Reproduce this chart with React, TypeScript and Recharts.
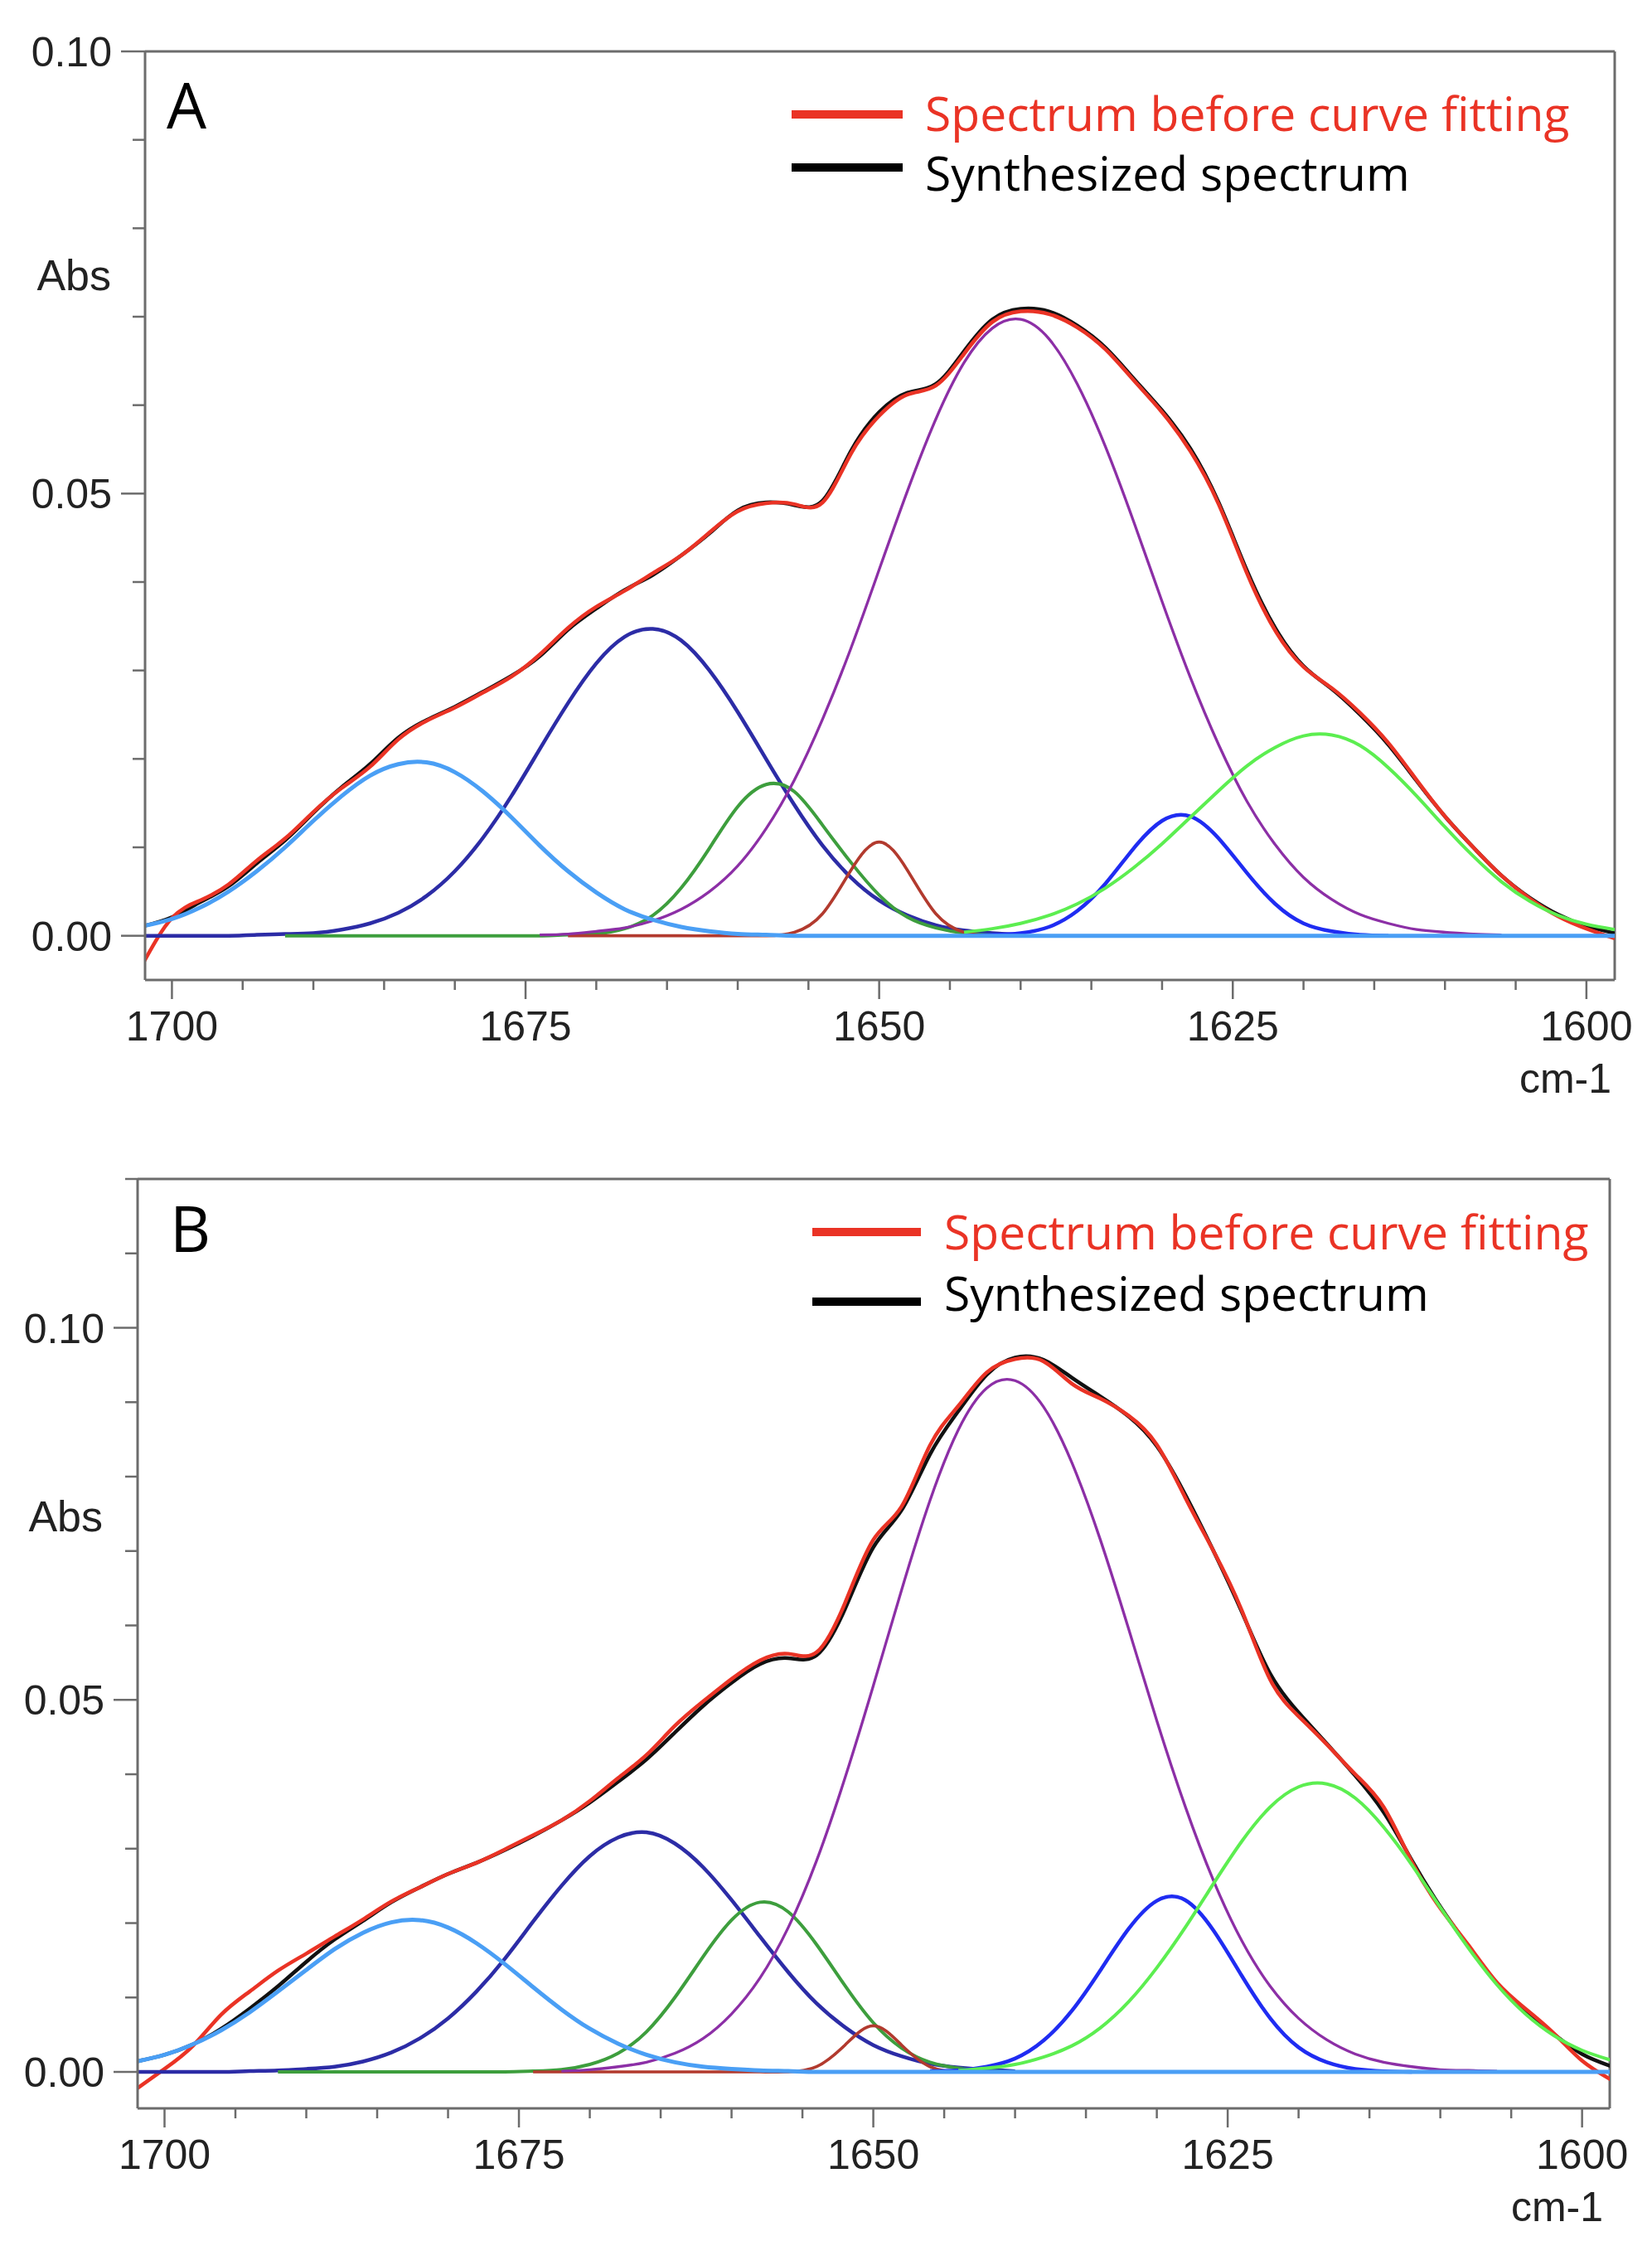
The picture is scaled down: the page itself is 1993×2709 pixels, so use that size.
import React from "react";
import { LineChart, Line, XAxis, YAxis, ReferenceLine } from "recharts";

// wavenumber grid shared by both panels (cm-1, high to low)
const wavenumbers = [
  1702, 1700, 1698, 1696, 1694, 1692, 1690, 1688, 1686, 1684,
  1682, 1680, 1678, 1676, 1674, 1672, 1670, 1668, 1666, 1664,
  1662, 1660, 1658, 1656, 1654, 1652, 1650, 1648, 1646, 1644,
  1642, 1640, 1638, 1636, 1634, 1632, 1630, 1628, 1626, 1624,
  1622, 1620, 1618, 1616, 1614, 1612, 1610, 1608, 1606, 1604,
  1602, 1600, 1598,
];

const xTicks = [
  1600, 1605, 1610, 1615, 1620, 1625, 1630, 1635, 1640, 1645, 1650,
  1655, 1660, 1665, 1670, 1675, 1680, 1685, 1690, 1695, 1700,
];
const yTicksA = [0, 0.01, 0.02, 0.03, 0.04, 0.05, 0.06, 0.07, 0.08, 0.09, 0.1];
const yTicksB = [0, 0.01, 0.02, 0.03, 0.04, 0.05, 0.06, 0.07, 0.08, 0.09, 0.1, 0.11, 0.12];

// ---------- panel A ----------
const redA = [
  -0.003, 0.002, 0.004, 0.0058, 0.0085, 0.011, 0.014, 0.0167, 0.0191, 0.0222,
  0.0243, 0.0258, 0.0275, 0.0293, 0.0318, 0.0348, 0.0372, 0.039, 0.041, 0.043,
  0.0456, 0.048, 0.0489, 0.0488, 0.049, 0.0545, 0.0588, 0.0612, 0.0622, 0.0658,
  0.0694, 0.0706, 0.0703, 0.0688, 0.0663, 0.0628, 0.0592, 0.0548, 0.0488, 0.041,
  0.0345, 0.0304, 0.028, 0.0252, 0.0218, 0.0176, 0.0135, 0.01, 0.0068, 0.0042,
  0.0022, 0.0008, -0.0003,
];
const blackA = [
  0.0011, 0.0021, 0.0038, 0.0056, 0.0082, 0.0108, 0.0139, 0.0168, 0.0194, 0.0224,
  0.0244, 0.0259, 0.0276, 0.0294, 0.0316, 0.0346, 0.037, 0.0391, 0.0408, 0.043,
  0.0455, 0.0481, 0.049, 0.0487, 0.0492, 0.0548, 0.0592, 0.0614, 0.0624, 0.0661,
  0.0697, 0.0709, 0.0706, 0.069, 0.0665, 0.063, 0.0594, 0.0551, 0.049, 0.0413,
  0.0348, 0.0305, 0.0279, 0.025, 0.0216, 0.0175, 0.0135, 0.01, 0.0068, 0.0043,
  0.0024, 0.0011, 0.0003,
];
const lightBlueA = [
  0.0011, 0.0019, 0.0032, 0.005, 0.0073, 0.01, 0.013, 0.0158, 0.0181, 0.0194,
  0.0196, 0.0185, 0.0163, 0.0134, 0.0102, 0.0073, 0.0049, 0.003, 0.0018, 0.001,
  0.0005, 0.0002, 0.0001, 0, 0, 0, 0, 0, 0, 0,
  0, 0, 0, 0, 0, 0, 0, 0, 0, 0,
  0, 0, 0, 0, 0, 0, 0, 0, 0, 0,
  0, 0, 0,
];
const navyA = [
  0, 0, 0, 0, 0.0001, 0.0002, 0.0003, 0.0007, 0.0014, 0.0026,
  0.0045, 0.0073, 0.0111, 0.0158, 0.0211, 0.0263, 0.0308, 0.0338, 0.0347, 0.0334,
  0.03, 0.0253, 0.02, 0.0148, 0.0102, 0.0066, 0.004, 0.0023, 0.0012, 0.0006,
  0.0003, 0.0001, null, null, null, null, null, null, null, null,
  null, null, null, null, null, null, null, null, null, null,
  null, null, null,
];
const greenA = [
  null, null, null, null, null, 0, 0, 0, 0, 0,
  0, 0, 0, 0, 0, 0.0001, 0.0002, 0.0008, 0.0023, 0.0054,
  0.0099, 0.0146, 0.0171, 0.0163, 0.0125, 0.0083, 0.0046, 0.0021, 0.0009, 0.0003,
  0.0001, null, null, null, null, null, null, null, null, null,
  null, null, null, null, null, null, null, null, null, null,
  null, null, null,
];
const darkRedA = [
  null, null, null, null, null, null, null, null, null, null,
  null, null, null, null, null, 0, 0, 0, 0, 0,
  0, 0, 0, 0.0004, 0.0025, 0.0074, 0.0106, 0.0074, 0.0025, 0.0004,
  0, null, null, null, null, null, null, null, null, null,
  null, null, null, null, null, null, null, null, null, null,
  null, null, null,
];
const purpleA = [
  null, null, null, null, null, null, null, null, null, null,
  null, null, null, null, 0.0001, 0.0002, 0.0005, 0.0009, 0.0017, 0.003,
  0.005, 0.0079, 0.0121, 0.0176, 0.0245, 0.0325, 0.0414, 0.0503, 0.0584, 0.0648,
  0.0687, 0.0697, 0.0675, 0.0624, 0.0553, 0.0468, 0.0378, 0.0292, 0.0216, 0.0152,
  0.0103, 0.0066, 0.0041, 0.0024, 0.0014, 0.0007, 0.0004, 0.0002, 0.0001, null,
  null, null, null,
];
const blueA = [
  null, null, null, null, null, null, null, null, null, null,
  null, null, null, null, null, null, null, null, null, null,
  null, null, null, null, null, null, null, null, null, 0,
  0.0001, 0.0003, 0.001, 0.0028, 0.0059, 0.0099, 0.013, 0.0135, 0.011, 0.0071,
  0.0036, 0.0014, 0.0005, 0.0001, 0, null, null, null, null, null,
  null, null, null,
];
const lightGreenA = [
  null, null, null, null, null, null, null, null, null, null,
  null, null, null, null, null, null, null, null, null, null,
  null, null, null, null, null, null, null, null, null, 0.0004,
  0.0008, 0.0014, 0.0023, 0.0036, 0.0054, 0.0077, 0.0104, 0.0134, 0.0164, 0.0192,
  0.0213, 0.0226, 0.0227, 0.0215, 0.019, 0.0158, 0.0123, 0.009, 0.0061, 0.0039,
  0.0023, 0.0013, 0.0007,
];

// ---------- panel B ----------
const redB = [
  -0.0023, 0.0004, 0.0035, 0.0077, 0.0108, 0.0136, 0.0159, 0.0182, 0.0205, 0.0229,
  0.0248, 0.0266, 0.0281, 0.0299, 0.0318, 0.0338, 0.0364, 0.0395, 0.0426, 0.0465,
  0.0498, 0.0528, 0.0553, 0.0562, 0.0564, 0.063, 0.0715, 0.076, 0.0842, 0.0895,
  0.094, 0.0958, 0.0955, 0.0925, 0.0905, 0.0882, 0.0843, 0.0772, 0.07, 0.062,
  0.0527, 0.0478, 0.044, 0.04, 0.0356, 0.0282, 0.022, 0.017, 0.012, 0.0085,
  0.0052, 0.0015, -0.001,
];
const blackB = [
  0.0014, 0.0023, 0.0037, 0.0058, 0.0085, 0.0115, 0.0148, 0.0178, 0.0203, 0.0228,
  0.0248, 0.0266, 0.0281, 0.0298, 0.0317, 0.0338, 0.0362, 0.039, 0.042, 0.0456,
  0.0492, 0.0523, 0.0548, 0.0556, 0.056, 0.0622, 0.0705, 0.0755, 0.083, 0.0888,
  0.0937, 0.096, 0.0957, 0.0933, 0.0908, 0.0881, 0.0841, 0.0776, 0.07, 0.0618,
  0.0535, 0.0483, 0.0441, 0.0398, 0.0349, 0.0284, 0.0222, 0.0168, 0.0119, 0.0082,
  0.0051, 0.0024, 0.0008,
];
const lightBlueB = [
  0.0014, 0.0023, 0.0037, 0.0056, 0.008, 0.0108, 0.0137, 0.0165, 0.0187, 0.0201,
  0.0204, 0.0194, 0.0173, 0.0145, 0.0114, 0.0084, 0.0058, 0.0038, 0.0023, 0.0013,
  0.0007, 0.0004, 0.0002, 0.0001, 0, 0, 0, 0, 0, 0,
  0, 0, 0, 0, 0, 0, 0, 0, 0, 0,
  0, 0, 0, 0, 0, 0, 0, 0, 0, 0,
  0, 0, 0,
];
const navyB = [
  0, 0, 0, 0, 0.0001, 0.0002, 0.0004, 0.0007, 0.0014, 0.0026,
  0.0045, 0.0072, 0.0108, 0.0152, 0.0202, 0.025, 0.029, 0.0315, 0.0322, 0.0307,
  0.0275, 0.0231, 0.0182, 0.0134, 0.0092, 0.006, 0.0036, 0.0021, 0.0011, 0.0006,
  0.0003, 0.0001, null, null, null, null, null, null, null, null,
  null, null, null, null, null, null, null, null, null, null,
  null, null, null,
];
const greenB = [
  null, null, null, null, null, 0, 0, 0, 0, 0,
  0, 0, 0, 0, 0.0001, 0.0003, 0.001, 0.0025, 0.0054, 0.01,
  0.0155, 0.0204, 0.0228, 0.0215, 0.0171, 0.0116, 0.0066, 0.0032, 0.0013, 0.0005,
  0.0001, 0, null, null, null, null, null, null, null, null,
  null, null, null, null, null, null, null, null, null, null,
  null, null, null,
];
const darkRedB = [
  null, null, null, null, null, null, null, null, null, null,
  null, null, null, null, 0, 0, 0, 0, 0, 0,
  0, 0, 0, 0, 0.0007, 0.0036, 0.0062, 0.0036, 0.0007, 0,
  null, null, null, null, null, null, null, null, null, null,
  null, null, null, null, null, null, null, null, null, null,
  null, null, null,
];
const purpleB = [
  null, null, null, null, null, null, null, null, null, null,
  null, null, null, null, null, 0.0001, 0.0003, 0.0007, 0.0013, 0.0025,
  0.0045, 0.0078, 0.0126, 0.0194, 0.0284, 0.0395, 0.0519, 0.0648, 0.0768, 0.0863,
  0.0919, 0.0929, 0.0894, 0.0819, 0.0716, 0.0596, 0.0472, 0.0357, 0.0257, 0.0176,
  0.0115, 0.0072, 0.0043, 0.0024, 0.0013, 0.0007, 0.0003, 0.0002, 0.0001, null,
  null, null, null,
];
const blueB = [
  null, null, null, null, null, null, null, null, null, null,
  null, null, null, null, null, null, null, null, null, null,
  null, null, null, null, null, null, null, null, 0.0001, 0.0002,
  0.0007, 0.0018, 0.0042, 0.0082, 0.0136, 0.0192, 0.023, 0.0231, 0.019, 0.0129,
  0.0072, 0.0033, 0.0013, 0.0004, 0.0001, 0, null, null, null, null,
  null, null, null,
];
const lightGreenB = [
  null, null, null, null, null, null, null, null, null, null,
  null, null, null, null, null, null, null, null, null, null,
  null, null, null, null, null, null, null, null, null, 0.0002,
  0.0005, 0.001, 0.002, 0.0035, 0.0059, 0.0094, 0.014, 0.0194, 0.0253, 0.031,
  0.0356, 0.0383, 0.0387, 0.0368, 0.0329, 0.0278, 0.0221, 0.0166, 0.0117, 0.0078,
  0.0049, 0.0029, 0.0016,
];

const legendLabels = ["Spectrum before curve fitting", "Synthesized spectrum"];

const AXIS = "#6c6c6c";
const TICK_FONT = "'Liberation Sans', Arial, sans-serif";
const TEXT_FONT = "'Open Sans', 'Noto Sans', sans-serif";
const RED = "#ea3325";

// drawn in this order, light blue last so its flat tail sits on top
const components = [
  { key: "navy", color: "#2c2ca6", width: 4.5 },
  { key: "green", color: "#3d9e3d", width: 4 },
  { key: "darkRed", color: "#b23a2e", width: 3.6 },
  { key: "purple", color: "#8c2fa6", width: 3.3 },
  { key: "blue", color: "#1f2cf2", width: 4.5 },
  { key: "lightGreen", color: "#5cee50", width: 4 },
  { key: "lightBlue", color: "#4a9ff5", width: 5 },
];

const buildRows = (s: Record<string, (number | null)[]>) =>
  wavenumbers.map((x, i) => {
    const row: Record<string, number | null> = { x };
    Object.keys(s).forEach((k) => (row[k] = s[k][i]));
    return row;
  });

const rowsA = buildRows({
  red: redA, black: blackA, lightBlue: lightBlueA, navy: navyA, green: greenA,
  darkRed: darkRedA, purple: purpleA, blue: blueA, lightGreen: lightGreenA,
});
const rowsB = buildRows({
  red: redB, black: blackB, lightBlue: lightBlueB, navy: navyB, green: greenB,
  darkRed: darkRedB, purple: purpleB, blue: blueB, lightGreen: lightGreenB,
});

const XTick = (props: any) => {
  const { x, y, payload } = props;
  const major = payload.value % 25 === 0;
  return (
    <g>
      <line x1={x} x2={x} y1={y} y2={y + (major ? 23 : 12)} stroke={AXIS} strokeWidth={2.5} />
      {major && (
        <text x={x} y={y + 73} textAnchor="middle" fontFamily={TICK_FONT} fontSize={50} fill="#222">
          {payload.value}
        </text>
      )}
    </g>
  );
};

const YTick = (props: any) => {
  const { x, y, payload } = props;
  const major = Math.round(payload.value * 100) % 5 === 0;
  return (
    <g>
      <line x1={x - (major ? 29 : 15)} x2={x} y1={y} y2={y} stroke={AXIS} strokeWidth={2.5} />
      {major && (
        <text x={x - 40} y={y + 18} textAnchor="end" fontFamily={TICK_FONT} fontSize={50} fill="#222">
          {payload.value.toFixed(2)}
        </text>
      )}
    </g>
  );
};

interface PanelProps {
  rows: Record<string, number | null>[];
  top: number;
  height: number;
  margin: { top: number; right: number; bottom: number; left: number };
  yWidth: number;
  xDomain: [number, number];
  yDomain: [number, number];
  yTicks: number[];
}

const Panel = ({ rows, top, height, margin, yWidth, xDomain, yDomain, yTicks }: PanelProps) => (
  <div style={{ position: "absolute", left: 0, top, width: 1993, height }}>
    <LineChart width={1993} height={height} data={rows} margin={margin}>
      <XAxis
        dataKey="x"
        type="number"
        domain={xDomain}
        reversed
        allowDataOverflow
        ticks={xTicks}
        interval={0}
        tick={<XTick />}
        tickLine={false}
        tickSize={0}
        tickMargin={0}
        height={100}
        axisLine={{ stroke: AXIS, strokeWidth: 3 }}
      />
      <YAxis
        type="number"
        domain={yDomain}
        allowDataOverflow
        ticks={yTicks}
        interval={0}
        tick={<YTick />}
        tickLine={false}
        tickSize={0}
        tickMargin={0}
        width={yWidth}
        axisLine={{ stroke: AXIS, strokeWidth: 3 }}
      />
      <ReferenceLine y={yDomain[1]} stroke={AXIS} strokeWidth={3} />
      <ReferenceLine x={xDomain[0]} stroke={AXIS} strokeWidth={3} />
      <Line type="natural" dataKey="black" stroke="#111" strokeWidth={4.5} dot={false} isAnimationActive={false} />
      <Line type="natural" dataKey="red" stroke={RED} strokeWidth={4.5} dot={false} isAnimationActive={false} />
      {components.map((c) => (
        <Line
          key={c.key}
          type="natural"
          dataKey={c.key}
          stroke={c.color}
          strokeWidth={c.width}
          dot={false}
          isAnimationActive={false}
        />
      ))}
    </LineChart>
  </div>
);

interface NoteProps {
  letter: string;
  letterX: number;
  letterY: number;
  lineX1: number;
  lineX2: number;
  lineY: [number, number];
  textX: number;
  textY: [number, number];
  absX: number;
  absY: number;
  cmX: number;
  cmY: number;
}

const Notes = (p: NoteProps) => (
  <g>
    <text x={p.letterX} y={p.letterY} fontFamily={TEXT_FONT} fontSize={76} fill="#000">
      {p.letter}
    </text>
    <line x1={p.lineX1} x2={p.lineX2} y1={p.lineY[0]} y2={p.lineY[0]} stroke={RED} strokeWidth={10} />
    <line x1={p.lineX1} x2={p.lineX2} y1={p.lineY[1]} y2={p.lineY[1]} stroke="#000" strokeWidth={10} />
    <text x={p.textX} y={p.textY[0]} fontFamily={TEXT_FONT} fontSize={57} fill={RED}>
      {legendLabels[0]}
    </text>
    <text x={p.textX} y={p.textY[1]} fontFamily={TEXT_FONT} fontSize={57} fill="#000">
      {legendLabels[1]}
    </text>
    <text x={p.absX} y={p.absY} textAnchor="end" fontFamily={TICK_FONT} fontSize={52} fill="#222">
      Abs
    </text>
    <text x={p.cmX} y={p.cmY} textAnchor="end" fontFamily={TICK_FONT} fontSize={50} fill="#222">
      cm-1
    </text>
  </g>
);

export default function App() {
  return (
    <div style={{ position: "absolute", left: 0, top: 0, width: 1993, height: 2709, background: "#fff" }}>
      <Panel
        rows={rowsA}
        top={0}
        height={1360}
        margin={{ top: 62, right: 45, bottom: 78, left: 0 }}
        yWidth={175}
        xDomain={[1598, 1701.9]}
        yDomain={[-0.005, 0.1]}
        yTicks={yTicksA}
      />
      <Panel
        rows={rowsB}
        top={1360}
        height={1349}
        margin={{ top: 62, right: 51, bottom: 66, left: 0 }}
        yWidth={166}
        xDomain={[1598.05, 1701.9]}
        yDomain={[-0.0049, 0.12]}
        yTicks={yTicksB}
      />
      <svg
        width={1993}
        height={2709}
        style={{ position: "absolute", left: 0, top: 0, pointerEvents: "none" }}
      >
        <Notes
          letter="A"
          letterX={201}
          letterY={155}
          lineX1={955}
          lineX2={1089}
          lineY={[138, 202]}
          textX={1116}
          textY={[158, 230]}
          absX={134}
          absY={350}
          cmX={1944}
          cmY={1318}
        />
        <Notes
          letter="B"
          letterX={205}
          letterY={1510}
          lineX1={980}
          lineX2={1111}
          lineY={[1486, 1570]}
          textX={1139}
          textY={[1507, 1581]}
          absX={124}
          absY={1847}
          cmX={1934}
          cmY={2679}
        />
      </svg>
    </div>
  );
}
